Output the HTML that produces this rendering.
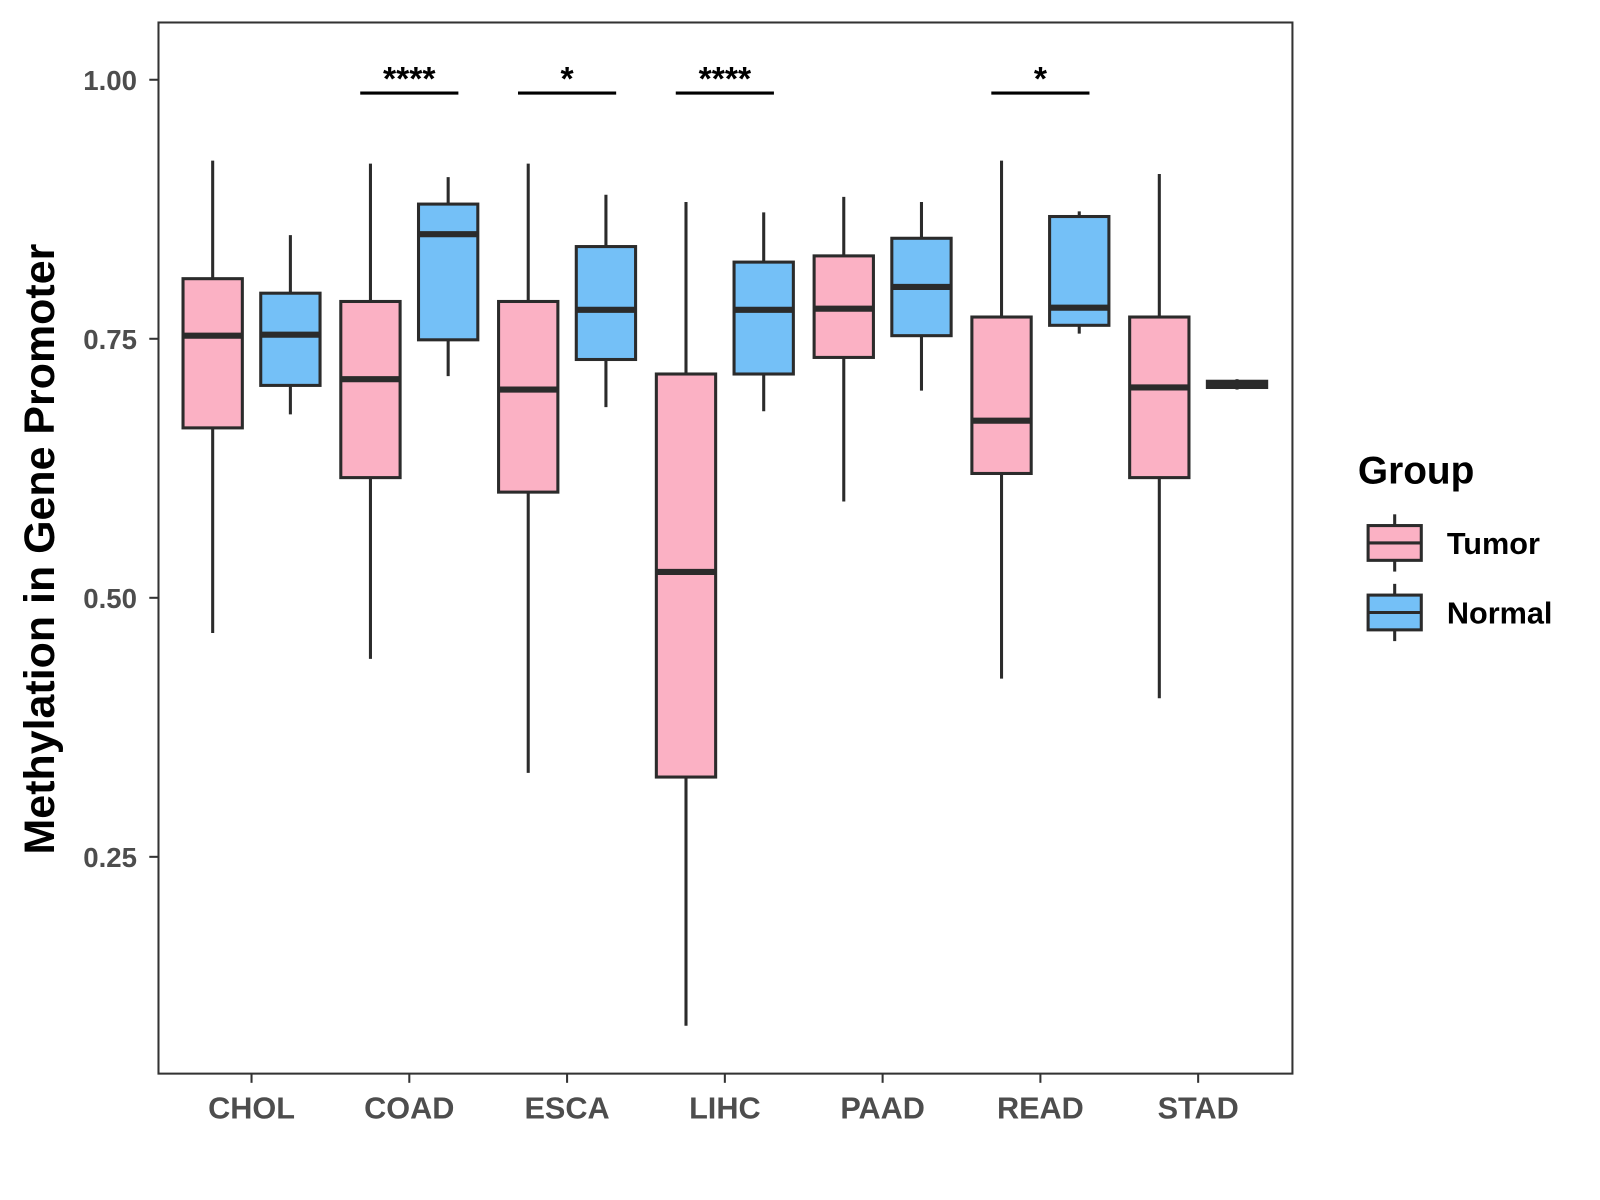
<!DOCTYPE html>
<html><head><meta charset="utf-8"><style>
html,body{margin:0;padding:0;background:#fff;}
svg{display:block;font-family:"Liberation Sans",Arial,sans-serif;}
</style></head><body>
<svg id="chart" width="1600" height="1200" viewBox="0 0 1600 1200">
<rect x="0" y="0" width="1600" height="1200" fill="#fff"/>
<g transform="scale(1.0225)">
<g id="marks"></g>
<rect x="155" y="22" width="1109" height="1028" fill="none" stroke="#333" stroke-width="2"/>
<text transform="translate(53,537) rotate(-90)" text-anchor="middle" font-size="42" font-weight="bold" fill="#000">Methylation in Gene Promoter</text>
<g>
<text x="1328" y="473" font-size="38" font-weight="bold" fill="#000">Group</text>
<g>
<line x1="1364" y1="503" x2="1364" y2="559" stroke="#2b2b2b" stroke-width="3"/>
<rect x="1338" y="514" width="52" height="34" fill="#fbb1c4" stroke="#2b2b2b" stroke-width="3"/>
<line x1="1338" y1="531" x2="1390" y2="531" stroke="#2b2b2b" stroke-width="3"/>
<text x="1415" y="542" font-size="30" font-weight="bold" fill="#000">Tumor</text>
</g>
<g>
<line x1="1364" y1="571" x2="1364" y2="627" stroke="#2b2b2b" stroke-width="3"/>
<rect x="1338" y="582" width="52" height="34" fill="#74c0f7" stroke="#2b2b2b" stroke-width="3"/>
<line x1="1338" y1="599" x2="1390" y2="599" stroke="#2b2b2b" stroke-width="3"/>
<text x="1415" y="610" font-size="30" font-weight="bold" fill="#000">Normal</text>
</g>
</g>
</g>
</svg>
<script>
const categories = ["CHOL","COAD","ESCA","LIHC","PAAD","READ","STAD"];
const tumorMin = [0.466,0.441,0.331,0.087,0.593,0.422,0.403];
const tumorQ1  = [0.664,0.616,0.602,0.327,0.732,0.620,0.616];
const tumorMed = [0.753,0.711,0.701,0.525,0.779,0.671,0.703];
const tumorQ3  = [0.808,0.786,0.786,0.716,0.830,0.771,0.771];
const tumorMax = [0.922,0.919,0.919,0.882,0.887,0.922,0.909];
const normalMin = [0.677,0.714,0.684,0.680,0.700,0.755,0.701];
const normalQ1  = [0.705,0.749,0.730,0.716,0.753,0.763,0.703];
const normalMed = [0.754,0.851,0.778,0.778,0.800,0.780,0.706];
const normalQ3  = [0.794,0.880,0.839,0.824,0.847,0.868,0.709];
const normalMax = [0.850,0.906,0.889,0.872,0.882,0.873,0.711];
const sigLabels = ["","****","*","****","","*",""];
const yTicks = [0.25,0.50,0.75,1.00];
const yTickLabels = ["0.25","0.50","0.75","1.00"];

const NS="http://www.w3.org/2000/svg";
const g=document.getElementById('marks');
const y=v=>78+(1-v)*1013.3;
const x=i=>246+i*154.3;
function mk(tag,attrs,parent){const e=document.createElementNS(NS,tag);for(const k in attrs)e.setAttribute(k,attrs[k]);(parent||g).appendChild(e);return e;}

yTicks.forEach((t,i)=>{
  const tk=mk('line',{x1:146,x2:155,y1:y(t),y2:y(t),stroke:'#333','stroke-width':2});
  
  
  const tl=mk('text',{x:134,y:y(t)+10,'text-anchor':'end','font-size':27,'font-weight':'bold',fill:'#4d4d4d'});
  tl.textContent=yTickLabels[i];
  
  
});

function box(cx,mn,q1,md,q3,mx,fill,name){
  const grp=mk('g',{});
  
  
  mk('line',{x1:cx,x2:cx,y1:y(mx),y2:y(mn),stroke:'#2b2b2b','stroke-width':3},grp);
  mk('rect',{x:cx-29,y:y(q3),width:58,height:Math.max(y(q1)-y(q3),1),fill:fill,stroke:'#2b2b2b','stroke-width':3},grp);
  mk('line',{x1:cx-29,x2:cx+29,y1:y(md),y2:y(md),stroke:'#2b2b2b','stroke-width':6},grp);
}

categories.forEach((c,i)=>{
  const cx=x(i);
  box(cx-38,tumorMin[i],tumorQ1[i],tumorMed[i],tumorQ3[i],tumorMax[i],'#fbb1c4','box-tumor-'+c.toLowerCase());
  box(cx+38,normalMin[i],normalQ1[i],normalMed[i],normalQ3[i],normalMax[i],'#74c0f7','box-normal-'+c.toLowerCase());
  const tk=mk('line',{x1:cx,x2:cx,y1:1050,y2:1059,stroke:'#333','stroke-width':2});
  
  
  const tl=mk('text',{x:cx,y:1094,'text-anchor':'middle','font-size':30,'font-weight':'bold',fill:'#4d4d4d'});
  tl.textContent=c;
  
  
  if(sigLabels[i]){
    const sl=mk('line',{x1:cx-48,x2:cx+48,y1:91,y2:91,stroke:'#000','stroke-width':3});
    
    
    const st=mk('text',{x:cx,y:88,'text-anchor':'middle','font-size':33,'font-weight':'bold',fill:'#000'});
    st.textContent=sigLabels[i];
    
    
  }
});
</script>
</body></html>
